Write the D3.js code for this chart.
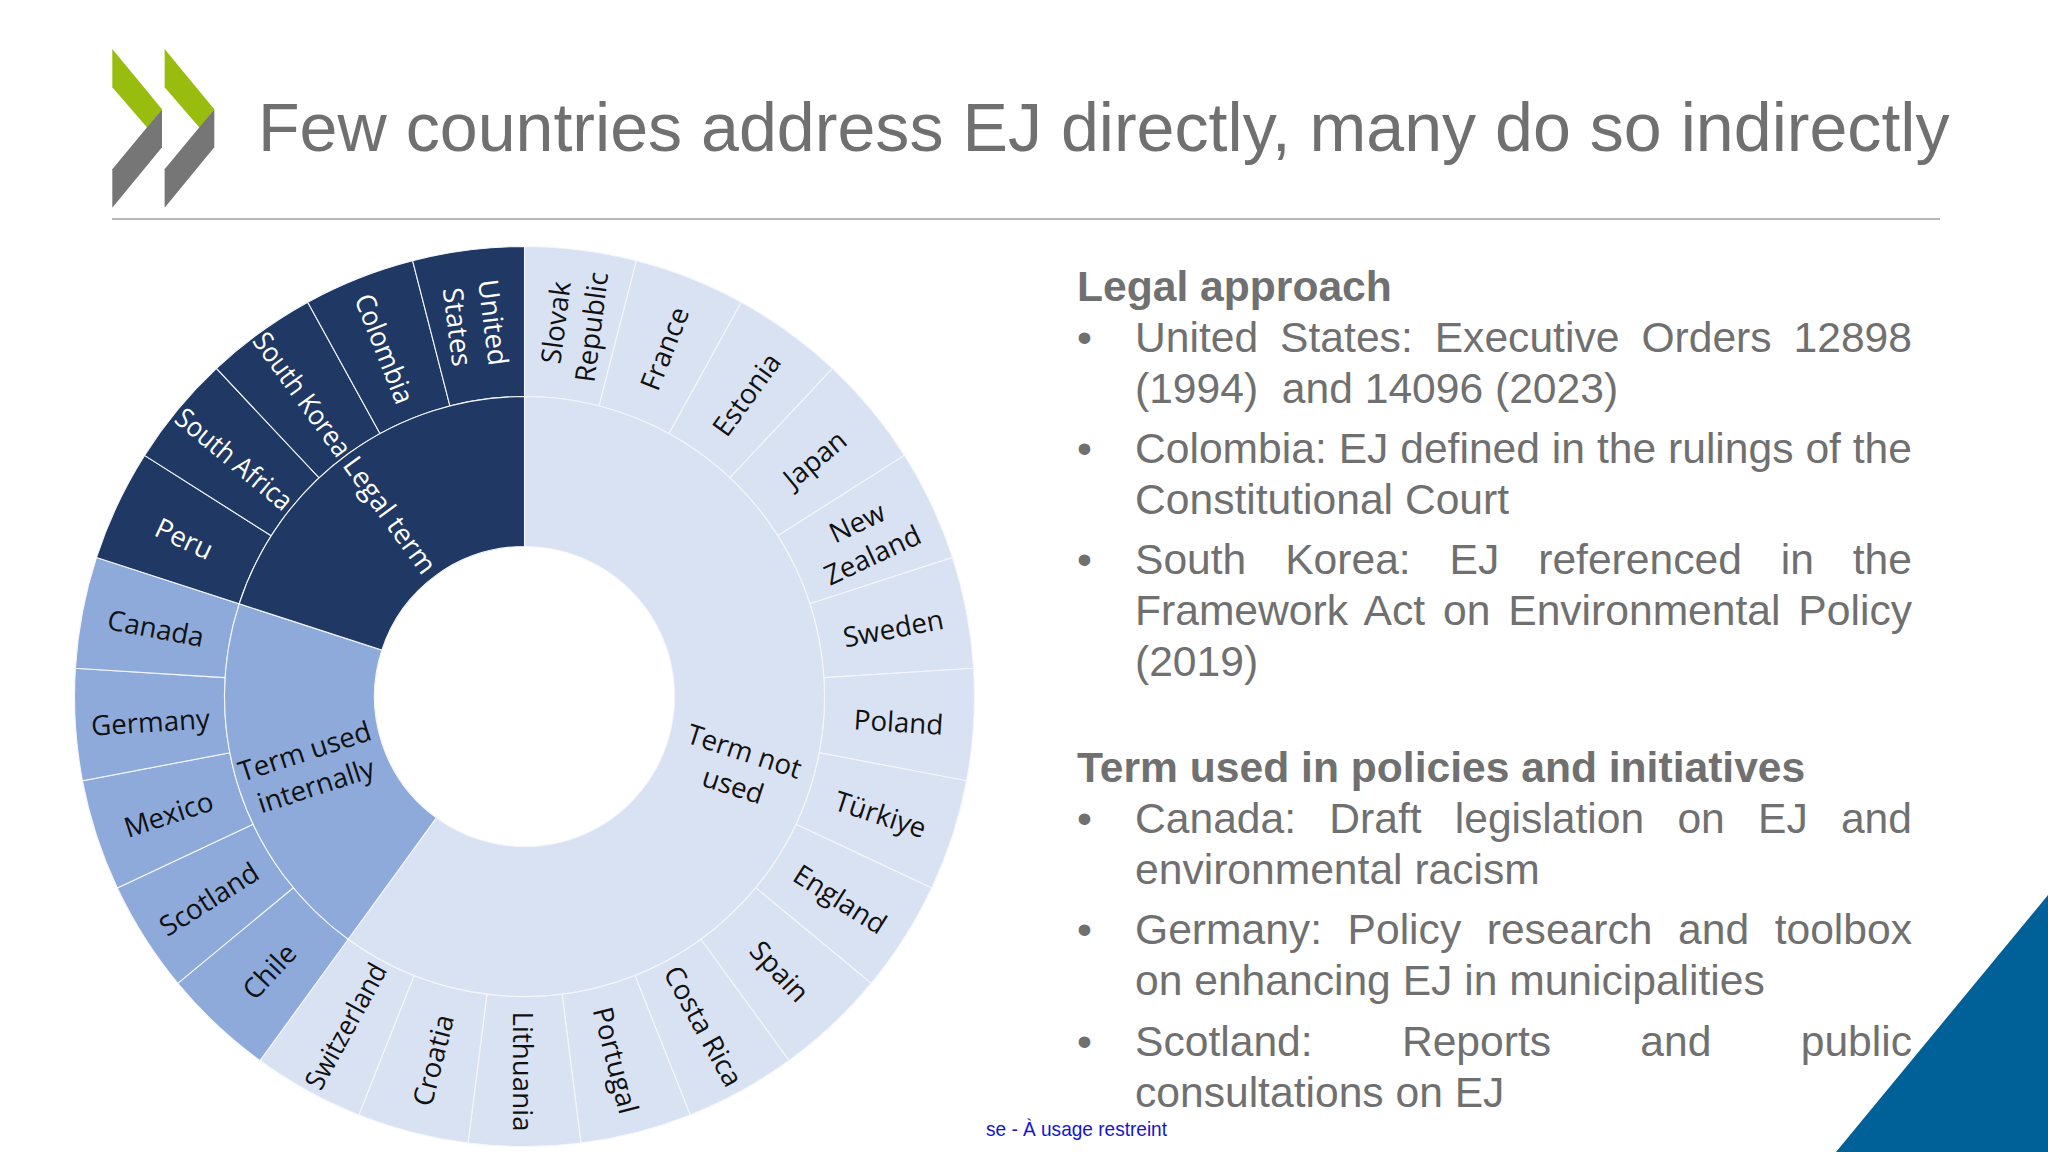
<!DOCTYPE html>
<html>
<head>
<meta charset="utf-8">
<script src="https://cdnjs.cloudflare.com/ajax/libs/d3/7.8.5/d3.min.js"></script>
<style>
  html, body { margin: 0; padding: 0; background: #fff; }
  svg { display: block; }
  text { white-space: pre; }
</style>
</head>
<body>
<div id="chart"></div>
<script>
// groups and their countries, clockwise from 12 o'clock. every country counts 1
var termNotUsed = ["Slovak Republic", "France", "Estonia", "Japan", "New Zealand", "Sweden", "Poland", "Türkiye", "England", "Spain", "Costa Rica", "Portugal", "Lithuania", "Croatia", "Switzerland"];
var termUsed = ["Chile", "Scotland", "Mexico", "Germany", "Canada"];
var legalTerm = ["Peru", "South Africa", "South Korea", "Colombia", "United States"];
var groupNames = ["Term not used", "Term used internally", "Legal term"];
var groupMembers = [termNotUsed, termUsed, legalTerm];
var groupColors = ["#d9e2f3", "#8eaadb", "#1f3864"];
var groupTextColors = ["#111", "#111", "#fff"];

// labels that break on two lines
var wrapped = {
  "Slovak Republic": ["Slovak", "Republic"],
  "New Zealand": ["New", "Zealand"],
  "United States": ["United", "States"],
  "Term not used": ["Term not", "used"],
  "Term used internally": ["Term used", "internally"]
};

// long labels are squeezed a little to stay inside their wedge
var squeezed = { "South Korea": 0.92, "South Africa": 0.91, "Switzerland": 0.93, "Colombia": 0.94 };

var title = "Few countries address EJ directly, many do so indirectly";
var footer = "se - À usage restreint";

// right hand text: [kind, text, baseline]; kind h = heading, b = first line of a bullet,
// j = justified continuation, l = last line
var textLines = [
  ["h", "Legal approach", 300.5],
  ["bj", "United States: Executive Orders 12898", 351.5],
  ["l", "(1994)  and 14096 (2023)", 402.5],
  ["bj", "Colombia: EJ defined in the rulings of the", 462.5],
  ["l", "Constitutional Court", 513.5],
  ["bj", "South Korea: EJ referenced in the", 573.5],
  ["j", "Framework Act on Environmental Policy", 624.5],
  ["l", "(2019)", 675.5],
  ["h", "Term used in policies and initiatives", 781.5],
  ["bj", "Canada: Draft legislation on EJ and", 832.5],
  ["l", "environmental racism", 883.5],
  ["bj", "Germany: Policy research and toolbox", 943.5],
  ["l", "on enhancing EJ in municipalities", 994.5],
  ["bj", "Scotland: Reports and public", 1055.5],
  ["l", "consultations on EJ", 1106.5]
];

var width = 2048, height = 1152;
var cx = 524.5, cy = 696.5;
var rInner = 150, rMid = 300, rOuter = 450;
var labelFont = "'Open Sans', sans-serif";
var slideFont = "'Liberation Sans', Arial, sans-serif";
var grey = "#707070";

var svg = d3.select("#chart").append("svg")
  .attr("width", width)
  .attr("height", height);

/* slide furniture */
function drawLogo() {
  var logo = svg.append("g").attr("class", "logo");
  [0, 52.3].forEach(function(dx) {
    logo.append("polygon")
      .attr("points", [[112.3, 49], [162, 109.3], [147.3, 127.7], [112.3, 87.3]].map(function(p) { return [p[0] + dx, p[1]]; }).join(" "))
      .attr("fill", "#99bd0e");
    logo.append("polygon")
      .attr("points", [[162, 109.3], [162, 147.3], [112.3, 207.7], [112.3, 169.3]].map(function(p) { return [p[0] + dx, p[1]]; }).join(" "))
      .attr("fill", "#767676");
  });
}
drawLogo();

svg.append("text")
  .attr("x", 258)
  .attr("y", 151)
  .attr("font-family", slideFont)
  .attr("font-size", 68.15)
  .attr("fill", grey)
  .text(title);

svg.append("line")
  .attr("x1", 112).attr("x2", 1940)
  .attr("y1", 219).attr("y2", 219)
  .attr("stroke", "#a0a0a0")
  .attr("stroke-width", 1.5);

svg.append("polygon")
  .attr("points", "2048,895 2048,1152 1836,1152")
  .attr("fill", "#006098");

svg.append("text")
  .attr("x", 986)
  .attr("y", 1136)
  .attr("font-family", slideFont)
  .attr("font-size", 21)
  .attr("fill", "#1414d2")
  .attr("textLength", 181)
  .attr("lengthAdjust", "spacingAndGlyphs")
  .text(footer);

/* sunburst */
var root = d3.hierarchy({
  name: "root",
  children: groupNames.map(function(name, i) {
    return {
      name: name,
      colorIdx: i,
      children: groupMembers[i].map(function(c) { return { name: c, value: 1 }; })
    };
  })
}).sum(function(d) { return d.value; });

// three levels, the root level is the hole and never drawn
d3.partition().size([2 * Math.PI, 3])(root);

var radius = d3.scaleLinear().domain([1, 2, 3]).range([rInner, rMid, rOuter]);

var arc = d3.arc()
  .startAngle(function(d) { return d.x0; })
  .endAngle(function(d) { return d.x1; })
  .innerRadius(function(d) { return radius(d.y0); })
  .outerRadius(function(d) { return radius(d.y1); });

var burst = svg.append("g")
  .attr("transform", "translate(" + cx + "," + cy + ")");

function groupIdx(d) {
  return d.depth === 1 ? d.data.colorIdx : d.parent.data.colorIdx;
}

var nodes = root.descendants().filter(function(d) { return d.depth > 0; })
  .sort(function(a, b) { return b.depth - a.depth; });

burst.selectAll("path")
  .data(nodes)
  .enter().append("path")
    .attr("d", arc)
    .attr("fill", function(d) { return groupColors[groupIdx(d)]; })
    .attr("stroke", "#f4f6fb")
    .attr("stroke-width", 1.1);

function labelTransform(d) {
  var deg = (d.x0 + d.x1) / 2 * 180 / Math.PI;
  var r = d.depth === 1 ? 226 : 375;
  var rad = deg * Math.PI / 180;
  var x = r * Math.sin(rad), y = -r * Math.cos(rad);
  // radial text, flipped on the left half so it stays readable
  var rot = deg <= 180 ? deg - 90 : deg + 90;
  return "translate(" + x + "," + y + ")rotate(" + rot + ")scale(" + (squeezed[d.data.name] || 1) + ",1)";
}

var labels = burst.selectAll("text")
  .data(nodes)
  .enter().append("text")
    .attr("transform", labelTransform)
    .attr("text-anchor", "middle")
    .attr("font-family", labelFont)
    .attr("font-size", 27.7)
    .attr("fill", function(d) { return groupTextColors[groupIdx(d)]; });

labels.each(function(d) {
  var parts = wrapped[d.data.name] || [d.data.name];
  var lineH = 36;
  var y0 = -(parts.length - 1) * lineH / 2 + 12;
  var t = d3.select(this);
  parts.forEach(function(p, i) {
    t.append("tspan").attr("x", 0).attr("y", y0 + i * lineH).text(p);
  });
});

/* right text block */
var textLeft = 1135, textRight = 1912;
var block = svg.append("g")
  .attr("font-family", slideFont)
  .attr("fill", grey);

textLines.forEach(function(row) {
  var kind = row[0];
  if (kind === "h") {
    block.append("text")
      .attr("x", 1077).attr("y", row[2])
      .attr("font-size", 42.6).attr("font-weight", "bold")
      .text(row[1]);
    return;
  }
  if (kind.charAt(0) === "b") {
    block.append("text")
      .attr("x", 1077).attr("y", row[2])
      .attr("font-size", 42.6)
      .text("•");
  }
  var t = block.append("text")
    .attr("x", textLeft).attr("y", row[2])
    .attr("font-size", 42.6)
    .text(row[1]);
  if (kind === "bj" || kind === "j") {
    var gaps = row[1].split(" ").length - 1;
    var extra = (textRight - textLeft - t.node().getComputedTextLength()) / gaps;
    t.attr("word-spacing", extra);
  }
});
</script>
</body>
</html>
